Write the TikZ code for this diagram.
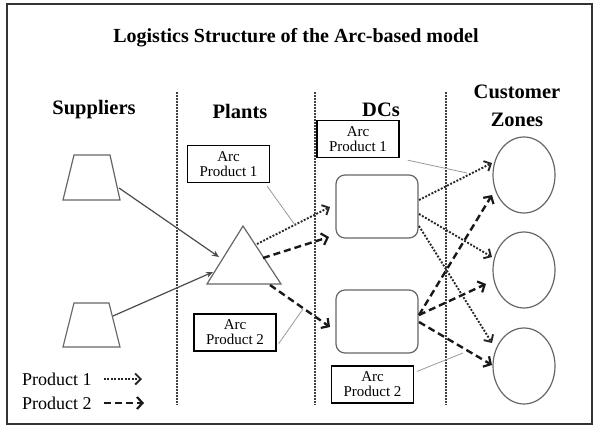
\documentclass[tikz,border=0pt]{standalone}
\usepackage{fontspec}
\setmainfont{Liberation Serif}
\usetikzlibrary{arrows.meta,shapes.geometric}
\tikzset{
  frame/.style={draw=black!80, line width=2pt},
  titletext/.style={font=\fontsize{20}{24}\selectfont\bfseries},
  headtext/.style={font=\fontsize{20.5}{28}\selectfont\bfseries, align=center},
  sepline/.style={draw=black!75, line width=1.5pt, dash pattern=on 1.5pt off 1.5pt},
  supplier/.style={draw=black!60, line width=1.2pt},
  plantshape/.style={draw=black!60, line width=1.2pt},
  dcbox/.style={draw=black!60, line width=1.2pt, rounded corners=9pt, minimum width=82pt, minimum height=63pt},
  zone/.style={draw=black!60, line width=1.2pt, ellipse, minimum width=62pt, minimum height=76pt, inner sep=0pt},
  arcbox/.style={draw=black, line width=1.3pt, minimum width=82pt, minimum height=37pt, inner sep=1pt,
    align=center, font=\fontsize{15}{15}\selectfont},
  leader/.style={draw=black!40, line width=0.8pt},
  supplyarrow/.style={draw=black!70, line width=1.2pt, -{Stealth[length=7pt,width=6pt]}},
  dotarrow/.style={draw=black!85, line width=1.9pt, dash pattern=on 1.9pt off 1.6pt,
    -{Straight Barb[length=5.5pt,width=11pt,line width=1.9pt]}},
  dasharrow/.style={draw=black!90, line width=2.4pt, dash pattern=on 7pt off 4pt,
    -{Straight Barb[length=5.5pt,width=12pt,line width=2.2pt]}},
  legendtext/.style={font=\fontsize{18}{20}\selectfont, anchor=west, inner sep=0pt}
}
\begin{document}
\begin{tikzpicture}[x=1pt,y=-1pt]
\useasboundingbox (0,0) rectangle (599,428);
\draw[frame] (7,4) rectangle (592,424);

% title and headers
\node[titletext] (title) at (296,38) {Logistics Structure of the Arc-based model};
\node[headtext] (hsup) at (94,110) {Suppliers};
\node[headtext] (hpl) at (240,111) {Plants};
\node[headtext] (hdc) at (381,110) {DCs};
\node[headtext] (hcz) at (517,106) {Customer\\Zones};

% separators
\coordinate (s1t) at (177,92); \coordinate (s1b) at (177,405);
\coordinate (s2t) at (315,92); \coordinate (s2b) at (315,405);
\coordinate (s3t) at (446,92); \coordinate (s3b) at (446,405);
\draw[sepline] (s1t) -- (s1b);
\draw[sepline] (s2t) -- (s2b);
\draw[sepline] (s3t) -- (s3b);

% suppliers (trapezoids)
\draw[supplier] (63,200) -- (74,155) -- (110,155) -- (120,200) -- cycle;
\draw[supplier] (63,347) -- (74,303) -- (109,303) -- (120,347) -- cycle;

% plant (triangle)
\coordinate (tA) at (243,226);
\coordinate (tL) at (207,284);
\coordinate (tR) at (281,284);
\draw[plantshape] (tA) -- (tR) -- (tL) -- cycle;

% DCs
\node[dcbox] (dc1) at (377,206.5) {};
\node[dcbox] (dc2) at (377,321.5) {};

% customer zones
\node[zone] (cz1) at (524,175) {};
\node[zone] (cz2) at (524,270) {};
\node[zone] (cz3) at (524,366) {};

% arc label boxes
\node[arcbox] (arcA) at (228.5,164) {Arc\\Product 1};
\node[arcbox] (arcB) at (235,332.5) {Arc\\Product 2};
\node[arcbox] (arcC) at (358,139) {Arc\\Product 1};
\node[arcbox] (arcD) at (372.5,384.5) {Arc\\Product 2};

% connection points
\coordinate (s1o) at (119,188);
\coordinate (s2o) at (113,316);
\coordinate (pin1) at (219,257);
\coordinate (pin2) at (213,272);
\coordinate (po1) at (257,244);
\coordinate (po2) at (263,258);
\coordinate (po3) at (270,285);
\coordinate (d1in1) at (330,207);
\coordinate (d1in2) at (329,237);
\coordinate (d2in) at (330,327);
\coordinate (d1o1) at (419,200);
\coordinate (d1o2) at (419,214);
\coordinate (d1o3) at (419,226);
\coordinate (d2o1) at (419,315);
\coordinate (d2o3) at (419,322);
\coordinate (z1a) at (492,163);
\coordinate (z1b) at (492,195);
\coordinate (z2a) at (492,257);
\coordinate (z2b) at (486,284);
\coordinate (z3a) at (492,343);
\coordinate (z3b) at (492,365);

% supplier arrows
\draw[supplyarrow] (s1o) -- (pin1);
\draw[supplyarrow] (s2o) -- (pin2);

% plant -> DC arrows
\draw[dotarrow] (po1) -- (d1in1);
\draw[dasharrow] (po2) -- (d1in2);
\draw[dasharrow] (po3) -- (d2in);

% DC -> zone arrows
\draw[dotarrow] (d1o1) -- (z1a);
\draw[dotarrow] (d1o2) -- (z2a);
\draw[dotarrow] (d1o3) -- (z3a);
\draw[dasharrow] (d2o1) -- (z1b);
\draw[dasharrow] (d2o1) -- (z2b);
\draw[dasharrow] (d2o3) -- (z3b);

% leaders
\coordinate (lA) at (295,225);
\coordinate (lB) at (303,309);
\coordinate (lC) at (467,173);
\coordinate (lD) at (463,353);
\draw[leader] ([xshift=-3pt,yshift=-3pt]arcA.south east) -- (lA);
\draw[leader] ([xshift=2pt,yshift=8pt]arcB.south east) -- (lB);
\draw[leader] ([xshift=8pt,yshift=-2pt]arcC.south east) -- (lC);
\draw[leader] ([xshift=3pt,yshift=-6pt]arcD.north east) -- (lD);

% legend
\node[legendtext] (leg1) at (22,379) {Product 1};
\node[legendtext] (leg2) at (22,403) {Product 2};
\coordinate (leg1e) at (142,379);
\coordinate (leg2e) at (144,403);
\draw[dotarrow] ([xshift=12pt]leg1.east) -- (leg1e);
\draw[dasharrow] ([xshift=12pt]leg2.east) -- (leg2e);
\end{tikzpicture}
\end{document}
